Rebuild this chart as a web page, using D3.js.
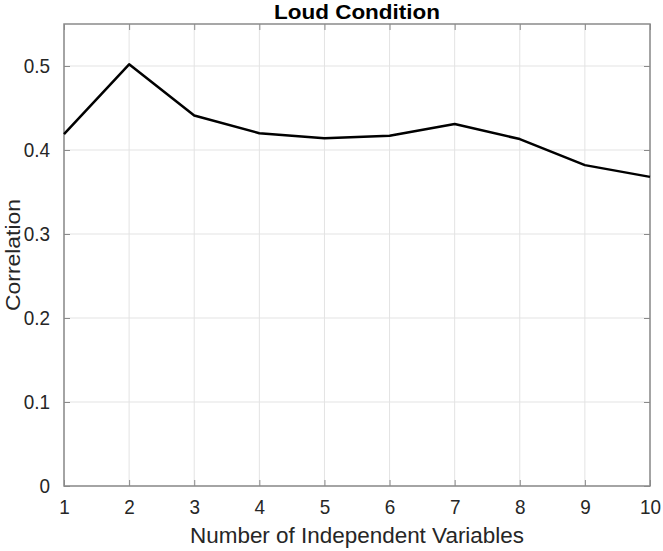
<!DOCTYPE html>
<html>
<head>
<meta charset="utf-8">
<script src="https://cdn.jsdelivr.net/npm/d3@7"></script>
<style>
  body { margin: 0; background: #fff; }
  text { font-family: "Liberation Sans", Arial, sans-serif; }
</style>
</head>
<body>
<div id="graph"></div>
<script>
// values
let nVars = [1, 2, 3, 4, 5, 6, 7, 8, 9, 10]
let correlation = [0.419, 0.502, 0.441, 0.420, 0.414, 0.417, 0.431, 0.413, 0.382, 0.368]
let yTicks = [0, 0.1, 0.2, 0.3, 0.4, 0.5]
let xTicks = [1, 2, 3, 4, 5, 6, 7, 8, 9, 10]

let W = 663, H = 551
let margin = {top: 24, right: 13, bottom: 65, left: 64},
    width = W - margin.left - margin.right,
    height = H - margin.top - margin.bottom

let svg = d3.select("#graph")
  .append("svg")
  .attr("width", W)
  .attr("height", H)

let g = svg.append("g")
  .attr("transform", "translate(" + margin.left + "," + margin.top + ")")

let x = d3.scaleLinear().domain([1, 10]).range([0, width])
let y = d3.scaleLinear().domain([0, 0.55]).range([height, 0])

// grid
g.append("g")
  .selectAll("line")
  .data(xTicks)
  .join("line")
  .attr("x1", d => x(d)).attr("x2", d => x(d))
  .attr("y1", 0).attr("y2", height)
  .attr("stroke", "#e3e3e3")
g.append("g")
  .selectAll("line")
  .data(yTicks)
  .join("line")
  .attr("x1", 0).attr("x2", width)
  .attr("y1", d => y(d)).attr("y2", d => y(d))
  .attr("stroke", "#e3e3e3")

// axes, ticks inside like matlab
let axisColor = "#8a8a8a"
let tickLen = 6
function styleAxis(sel) {
  sel.select(".domain").remove()
  sel.selectAll(".tick line").attr("stroke", axisColor)
  sel.selectAll(".tick text")
    .attr("fill", "#262626")
    .style("font-size", "21px")
    .each(function () {
      // matlab font is narrower, squeeze a bit
      let w = this.getComputedTextLength()
      if (w > 0) d3.select(this).attr("textLength", w * 0.9).attr("lengthAdjust", "spacingAndGlyphs")
    })
}

g.append("g")
  .attr("transform", "translate(0," + height + ")")
  .call(d3.axisBottom(x).tickValues(xTicks).tickSizeInner(-tickLen).tickSizeOuter(0).tickPadding(13).tickFormat(d3.format("d")))
  .call(styleAxis)
g.append("g")
  .call(d3.axisTop(x).tickValues(xTicks).tickSizeInner(-tickLen).tickSizeOuter(0).tickFormat(""))
  .call(styleAxis)
g.append("g")
  .call(d3.axisLeft(y).tickValues(yTicks).tickSizeInner(-tickLen).tickSizeOuter(0).tickPadding(14).tickFormat(d => d === 0 ? "0" : d3.format(".1f")(d)))
  .call(styleAxis)
g.append("g")
  .attr("transform", "translate(" + width + ",0)")
  .call(d3.axisRight(y).tickValues(yTicks).tickSizeInner(-tickLen).tickSizeOuter(0).tickFormat(""))
  .call(styleAxis)

// box
g.append("rect")
  .attr("width", width)
  .attr("height", height)
  .attr("fill", "none")
  .attr("stroke", axisColor)
  .attr("stroke-width", 1.5)

// the line
let line = d3.line()
  .x((d, i) => x(nVars[i]))
  .y(d => y(d))

g.append("path")
  .datum(correlation)
  .attr("d", line)
  .attr("fill", "none")
  .attr("stroke", "#000")
  .attr("stroke-width", 2.5)
  .attr("stroke-linejoin", "round")

// labels
svg.append("text")
  .attr("x", margin.left + width / 2)
  .attr("y", 19)
  .attr("text-anchor", "middle")
  .style("font-size", "21px")
  .style("font-weight", "bold")
  .attr("textLength", 166)
  .attr("lengthAdjust", "spacingAndGlyphs")
  .text("Loud Condition")

svg.append("text")
  .attr("x", margin.left + width / 2)
  .attr("y", 543)
  .attr("text-anchor", "middle")
  .attr("fill", "#262626")
  .style("font-size", "22px")
  .attr("textLength", 334)
  .attr("lengthAdjust", "spacingAndGlyphs")
  .text("Number of Independent Variables")

svg.append("text")
  .attr("transform", "translate(20," + (margin.top + height / 2) + ") rotate(-90)")
  .attr("text-anchor", "middle")
  .attr("fill", "#262626")
  .style("font-size", "21px")
  .attr("textLength", 112)
  .attr("lengthAdjust", "spacingAndGlyphs")
  .text("Correlation")
</script>
</body>
</html>
